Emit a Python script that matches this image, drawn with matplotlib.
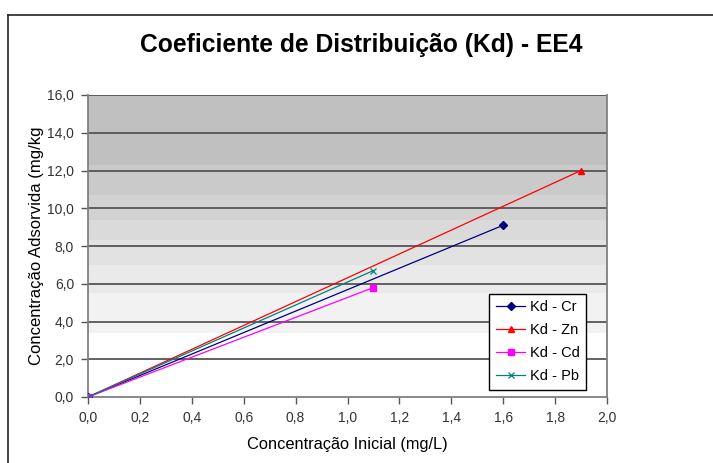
import numpy as np
import matplotlib
matplotlib.use("Agg")
import matplotlib.pyplot as plt
from matplotlib.lines import Line2D

plt.rcParams['font.family'] = ['Liberation Sans', 'DejaVu Sans']

# data
cr_x = [0.0, 1.6]
cr_y = [0.0, 9.1]
zn_x = [0.0, 1.9]
zn_y = [0.0, 12.0]
cd_x = [0.0, 1.1]
cd_y = [0.0, 5.8]
pb_x = [0.0, 1.1]
pb_y = [0.0, 6.7]

x_ticks = [0.0, 0.2, 0.4, 0.6, 0.8, 1.0, 1.2, 1.4, 1.6, 1.8, 2.0]
y_ticks = [0.0, 2.0, 4.0, 6.0, 8.0, 10.0, 12.0, 14.0, 16.0]
x_labels = ["0,0", "0,2", "0,4", "0,6", "0,8", "1,0", "1,2", "1,4", "1,6", "1,8", "2,0"]
y_labels = ["0,0", "2,0", "4,0", "6,0", "8,0", "10,0", "12,0", "14,0", "16,0"]

fig = plt.figure(figsize=(7.13, 4.63), dpi=100)
ax = fig.add_axes([88 / 713, 1 - 397 / 463, (607 - 88) / 713, (397 - 95) / 463])

# banded gray gradient background (dark at top, white at bottom)
band_edges = [0.0, 3.4, 5.5, 7.0, 8.3, 9.4, 10.7, 12.3, 16.0]
band_grays = ['#ffffff', '#f2f2f2', '#eaeaea', '#e2e2e2', '#dadada', '#d2d2d2', '#cacaca', '#c0c0c0']
for lo, hi, c in zip(band_edges[:-1], band_edges[1:], band_grays):
    ax.axhspan(lo, hi, color=c, lw=0, zorder=0)

for y in y_ticks[1:]:
    ax.axhline(y, color='#555555', lw=1.3, zorder=1)

ax.plot(cr_x, cr_y, color='#000080', lw=0.9, marker='D', ms=4, label='Kd - Cr', zorder=3)
ax.plot(zn_x, zn_y, color='#ff0000', lw=0.9, marker='^', ms=5, label='Kd - Zn', zorder=3)
ax.plot(cd_x, cd_y, color='#ff00ff', lw=0.9, marker='s', ms=5, label='Kd - Cd', zorder=3)
ax.plot(pb_x, pb_y, color='#008080', lw=0.9, marker='x', ms=5, mew=0.9, label='Kd - Pb', zorder=3)

ax.set_xlim(0, 2.0)
ax.set_ylim(0, 16.0)
ax.set_xticks(x_ticks)
ax.set_xticklabels(x_labels, fontsize=10, color='#333333')
ax.set_yticks(y_ticks)
ax.set_yticklabels(y_labels, fontsize=10, color='#333333')
ax.tick_params(direction='out', length=5, width=1, color='#555555', pad=5)
for s in ['left', 'bottom', 'right']:
    ax.spines[s].set_color('#808080')
    ax.spines[s].set_linewidth(1.3)
ax.spines['top'].set_visible(False)

ax.set_xlabel("Concentração Inicial (mg/L)", fontsize=11.8, labelpad=9)
ax.set_ylabel("Concentração Adsorvida (mg/kg", fontsize=12, labelpad=2)

fig.text(361 / 713, 1 - 45 / 463, "Coeficiente de Distribuição (Kd) - EE4",
         ha='center', va='center', fontsize=17.7, fontweight='bold')

leg = ax.legend(loc='lower right', bbox_to_anchor=((586 - 88) / 519, (397 - 390) / 302),
                fontsize=10.5, frameon=True, fancybox=False, edgecolor='black',
                framealpha=1, borderpad=0.45, labelspacing=0.62, handlelength=2.0,
                handletextpad=0.3, borderaxespad=0)
leg.get_frame().set_linewidth(1.0)

# outer chart border (top and left only visible)
fig.add_artist(Line2D([8 / 713, 1.0], [1 - 15 / 463, 1 - 15 / 463], color='#222222', lw=1.2))
fig.add_artist(Line2D([8 / 713, 8 / 713], [0, 1 - 15 / 463], color='#222222', lw=1.2))

fig.savefig("out.png", dpi=100)
